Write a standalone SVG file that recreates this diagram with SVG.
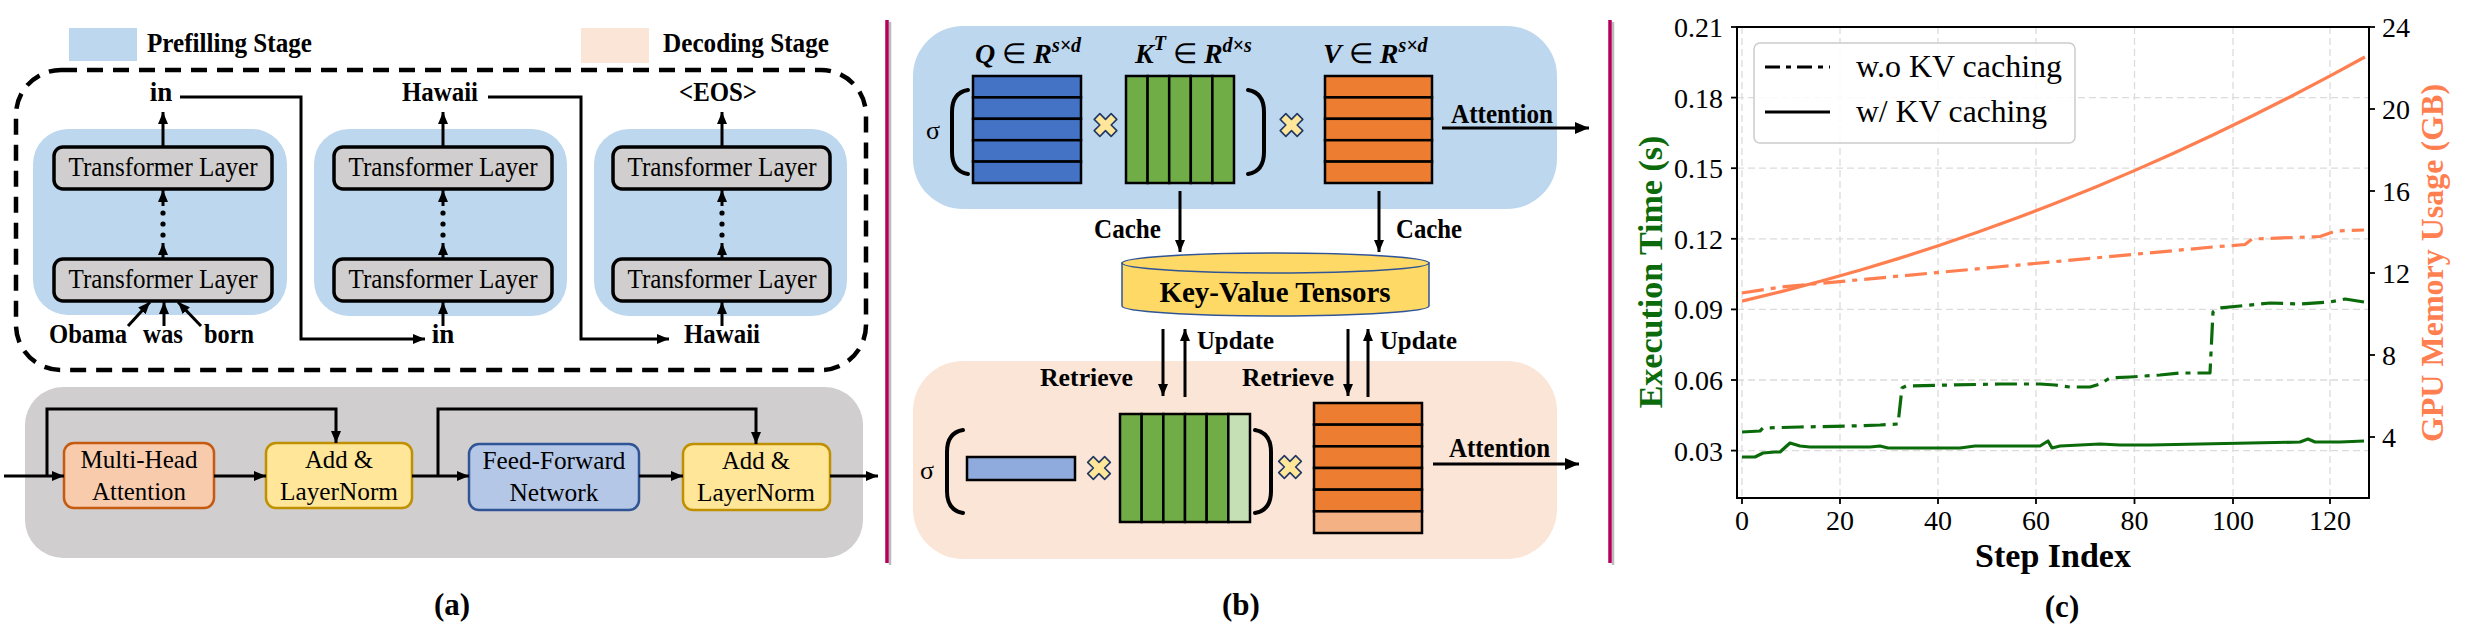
<svg xmlns="http://www.w3.org/2000/svg" width="2465" height="633" viewBox="0 0 2465 633">
<defs>
<style>
text{font-family:"Liberation Serif","Times New Roman",serif;fill:#000}
.b{font-weight:bold}
.t27{font-size:27px}
.t26{font-size:26px}
.t25{font-size:25px}
.mid{text-anchor:middle}
.ln{stroke:#000;stroke-width:3;fill:none}
.lna{stroke:#000;stroke-width:3;fill:none;marker-end:url(#ah)}
.tl{fill:#D0CECE;stroke:#000;stroke-width:3.5}
.cell{stroke:#000;stroke-width:2.5}
.par{stroke:#000;stroke-width:4;fill:none;stroke-linecap:round}
.grid{stroke:#dcdcdc;stroke-width:1.3;stroke-dasharray:7 4}
.tick{stroke:#000;stroke-width:1.8}
.tk{font-size:28px}
.dd{stroke-dasharray:22 7 5 7}
</style>
<marker id="ah" viewBox="0 0 12 10" refX="12" refY="5" markerWidth="12" markerHeight="10" markerUnits="userSpaceOnUse" orient="auto">
<path d="M0,0 L12,5 L0,10 z" fill="#000"/>
</marker>
<marker id="ahb" viewBox="0 0 14 12" refX="14" refY="6" markerWidth="14" markerHeight="12" markerUnits="userSpaceOnUse" orient="auto">
<path d="M0,0 L14,6 L0,12 z" fill="#000"/>
</marker>
<path id="times" d="M-4,-12 L4,-12 L4,-4 L12,-4 L12,4 L4,4 L4,12 L-4,12 L-4,4 L-12,4 L-12,-4 L-4,-4 Z" transform="rotate(45)" fill="#FFE699" stroke="#203864" stroke-width="1.6" stroke-linejoin="round"/>
</defs>
<rect width="2465" height="633" fill="#fff"/>

<!-- ===== Panel (a) ===== -->
<g id="legend-a">
<rect x="69" y="28" width="68" height="33" fill="#BDD7EE"/>
<text x="147" y="52" class="b t27" textLength="165" lengthAdjust="spacingAndGlyphs">Prefilling Stage</text>
<rect x="581" y="28" width="68" height="35" fill="#FBE5D6"/>
<text x="663" y="52" class="b t27" textLength="166" lengthAdjust="spacingAndGlyphs">Decoding Stage</text>
</g>

<g id="stage-frame">
<rect x="16" y="70" width="850" height="300" rx="45" fill="none" stroke="#000" stroke-width="4.5" stroke-dasharray="16 10"/>
</g>

<g id="step1">
<rect x="33" y="129" width="254" height="186" rx="35" fill="#BDD7EE"/>
<rect class="tl" x="54" y="147" width="218" height="42" rx="9"/>
<text x="163" y="176" class="t27 mid" textLength="189" lengthAdjust="spacingAndGlyphs">Transformer Layer</text>
<rect class="tl" x="54" y="259" width="218" height="42" rx="9"/>
<text x="163" y="288" class="t27 mid" textLength="189" lengthAdjust="spacingAndGlyphs">Transformer Layer</text>
</g>
<g id="step2">
<rect x="314" y="129" width="253" height="187" rx="35" fill="#BDD7EE"/>
<rect class="tl" x="334" y="147" width="218" height="42" rx="9"/>
<text x="443" y="176" class="t27 mid" textLength="189" lengthAdjust="spacingAndGlyphs">Transformer Layer</text>
<rect class="tl" x="334" y="259" width="218" height="42" rx="9"/>
<text x="443" y="288" class="t27 mid" textLength="189" lengthAdjust="spacingAndGlyphs">Transformer Layer</text>
</g>
<g id="step3">
<rect x="594" y="129" width="253" height="187" rx="35" fill="#BDD7EE"/>
<rect class="tl" x="613" y="147" width="217" height="42" rx="9"/>
<text x="722" y="176" class="t27 mid" textLength="189" lengthAdjust="spacingAndGlyphs">Transformer Layer</text>
<rect class="tl" x="613" y="259" width="217" height="42" rx="9"/>
<text x="722" y="288" class="t27 mid" textLength="189" lengthAdjust="spacingAndGlyphs">Transformer Layer</text>
</g>

<g id="tokens">
<text x="161" y="101" class="b t27 mid">in</text>
<text x="440" y="101" class="b t27 mid" textLength="76" lengthAdjust="spacingAndGlyphs">Hawaii</text>
<text x="718" y="101" class="b t27 mid" textLength="78" lengthAdjust="spacingAndGlyphs">&lt;EOS&gt;</text>
<text x="88" y="343" class="b t27 mid" textLength="78" lengthAdjust="spacingAndGlyphs">Obama</text>
<text x="163" y="343" class="b t27 mid" textLength="40" lengthAdjust="spacingAndGlyphs">was</text>
<text x="229" y="343" class="b t27 mid" textLength="50" lengthAdjust="spacingAndGlyphs">born</text>
<text x="443" y="343" class="b t27 mid">in</text>
<text x="722" y="343" class="b t27 mid" textLength="76" lengthAdjust="spacingAndGlyphs">Hawaii</text>
</g>

<g id="dots" fill="#000">
<circle cx="163" cy="213" r="2.6"/><circle cx="163" cy="224" r="2.6"/><circle cx="163" cy="235" r="2.6"/>
<circle cx="443" cy="213" r="2.6"/><circle cx="443" cy="224" r="2.6"/><circle cx="443" cy="235" r="2.6"/>
<circle cx="722" cy="213" r="2.6"/><circle cx="722" cy="224" r="2.6"/><circle cx="722" cy="235" r="2.6"/>
</g>

<g id="block">
<rect x="25" y="387" width="838" height="171" rx="38" fill="#D0CECE"/>
</g>
<g id="mha">
<rect x="64" y="443" width="150" height="65" rx="10" fill="#F8CBAD" stroke="#C55A11" stroke-width="2.5"/>
<text x="139" y="468" class="t25 mid" textLength="117" lengthAdjust="spacingAndGlyphs">Multi-Head</text>
<text x="139" y="500" class="t25 mid" textLength="94" lengthAdjust="spacingAndGlyphs">Attention</text>
</g>
<g id="addnorm1">
<rect x="266" y="443" width="146" height="65" rx="10" fill="#FFE699" stroke="#BF9000" stroke-width="2.5"/>
<text x="339" y="468" class="t25 mid" textLength="68" lengthAdjust="spacingAndGlyphs">Add &amp;</text>
<text x="339" y="500" class="t25 mid" textLength="118" lengthAdjust="spacingAndGlyphs">LayerNorm</text>
</g>
<g id="ffn">
<rect x="469" y="444" width="170" height="66" rx="10" fill="#B4C7E7" stroke="#2F5597" stroke-width="2.5"/>
<text x="554" y="469" class="t25 mid" textLength="143" lengthAdjust="spacingAndGlyphs">Feed-Forward</text>
<text x="554" y="501" class="t25 mid" textLength="89" lengthAdjust="spacingAndGlyphs">Network</text>
</g>
<g id="addnorm2">
<rect x="683" y="444" width="147" height="66" rx="10" fill="#FFE699" stroke="#BF9000" stroke-width="2.5"/>
<text x="756" y="469" class="t25 mid" textLength="68" lengthAdjust="spacingAndGlyphs">Add &amp;</text>
<text x="756" y="501" class="t25 mid" textLength="118" lengthAdjust="spacingAndGlyphs">LayerNorm</text>
</g>

<text x="452" y="615" class="b mid" font-size="31">(a)</text>

<!-- separators -->
<g id="separators">
<line x1="890" y1="22" x2="890" y2="565" stroke="#bbb" stroke-width="2.5"/>
<line x1="887" y1="20" x2="887" y2="563" stroke="#B5005B" stroke-width="3.5"/>
<line x1="1613" y1="22" x2="1613" y2="565" stroke="#bbb" stroke-width="2.5"/>
<line x1="1610" y1="20" x2="1610" y2="563" stroke="#B5005B" stroke-width="3.5"/>
</g>

<!-- ===== Panel (b) ===== -->
<g id="prefill-attn">
<rect x="913" y="26" width="644" height="183" rx="50" fill="#BDD7EE"/>
<text x="933" y="139" font-size="26" class="mid">σ</text>
<path class="par" d="M968,90 C956,92 952,100 952,112 L952,152 C952,164 956,172 968,174"/>
<path class="par" d="M1248,90 C1260,92 1264,100 1264,112 L1264,152 C1264,164 1260,172 1248,174"/>
<g fill="#4472C4">
<rect class="cell" x="973" y="76" width="108" height="21.4"/>
<rect class="cell" x="973" y="97.4" width="108" height="21.4"/>
<rect class="cell" x="973" y="118.8" width="108" height="21.4"/>
<rect class="cell" x="973" y="140.2" width="108" height="21.4"/>
<rect class="cell" x="973" y="161.6" width="108" height="21.4"/>
</g>
<g fill="#70AD47">
<rect class="cell" x="1126" y="76" width="21.6" height="107"/>
<rect class="cell" x="1147.6" y="76" width="21.6" height="107"/>
<rect class="cell" x="1169.2" y="76" width="21.6" height="107"/>
<rect class="cell" x="1190.8" y="76" width="21.6" height="107"/>
<rect class="cell" x="1212.4" y="76" width="21.6" height="107"/>
</g>
<g fill="#ED7D31">
<rect class="cell" x="1325" y="76" width="107" height="21.4"/>
<rect class="cell" x="1325" y="97.4" width="107" height="21.4"/>
<rect class="cell" x="1325" y="118.8" width="107" height="21.4"/>
<rect class="cell" x="1325" y="140.2" width="107" height="21.4"/>
<rect class="cell" x="1325" y="161.6" width="107" height="21.4"/>
</g>
<use href="#times" x="1105.5" y="125"/>
<use href="#times" x="1291.5" y="125"/>
<text x="975" y="63" class="b" font-size="28" font-style="italic">Q<tspan font-style="normal" font-weight="normal"> ∈ </tspan>R<tspan font-size="20" dy="-11">s×d</tspan></text>
<text x="1135" y="63" class="b" font-size="28" font-style="italic">K<tspan font-size="20" dy="-13">T</tspan><tspan dy="13" font-style="normal" font-weight="normal"> ∈ </tspan>R<tspan font-size="20" dy="-11">d×s</tspan></text>
<text x="1323" y="63" class="b" font-size="28" font-style="italic">V<tspan font-style="normal" font-weight="normal"> ∈ </tspan>R<tspan font-size="20" dy="-11">s×d</tspan></text>
<text x="1451" y="123" class="b t27" textLength="102" lengthAdjust="spacingAndGlyphs">Attention</text>
</g>

<g id="kv-cache">
<path d="M1122,263 V306 A153.5,10 0 0 0 1429,306 V263 Z" fill="#FFD966" stroke="#2F5597" stroke-width="1.5"/>
<ellipse cx="1275.5" cy="263" rx="153.5" ry="10" fill="#FFD966" stroke="#2F5597" stroke-width="1.5"/>
<text x="1275" y="302" class="b mid" font-size="29" textLength="231" lengthAdjust="spacingAndGlyphs">Key-Value Tensors</text>
</g>

<g id="decode-attn">
<rect x="913" y="361" width="644" height="198" rx="50" fill="#FBE5D6"/>
<text x="927" y="479" font-size="26" class="mid">σ</text>
<path class="par" d="M963,430 C951,432 947,440 947,452 L947,491 C947,503 951,511 963,513"/>
<path class="par" d="M1255,430 C1267,432 1271,440 1271,452 L1271,491 C1271,503 1267,511 1255,513"/>
<rect class="cell" x="967" y="457" width="108" height="23" fill="#8FAADC"/>
<g fill="#70AD47">
<rect class="cell" x="1120" y="414" width="21.67" height="108"/>
<rect class="cell" x="1141.67" y="414" width="21.67" height="108"/>
<rect class="cell" x="1163.33" y="414" width="21.67" height="108"/>
<rect class="cell" x="1185" y="414" width="21.67" height="108"/>
<rect class="cell" x="1206.67" y="414" width="21.67" height="108"/>
<rect class="cell" x="1228.33" y="414" width="21.67" height="108" fill="#C5E0B4"/>
</g>
<g fill="#ED7D31">
<rect class="cell" x="1314" y="403" width="108" height="21.67"/>
<rect class="cell" x="1314" y="424.67" width="108" height="21.67"/>
<rect class="cell" x="1314" y="446.33" width="108" height="21.67"/>
<rect class="cell" x="1314" y="468" width="108" height="21.67"/>
<rect class="cell" x="1314" y="489.67" width="108" height="21.67"/>
<rect class="cell" x="1314" y="511.33" width="108" height="21.67" fill="#F4B183"/>
</g>
<use href="#times" x="1099" y="468"/>
<use href="#times" x="1290" y="467"/>
<text x="1449" y="457" class="b t27" textLength="101" lengthAdjust="spacingAndGlyphs">Attention</text>
</g>

<g id="kv-labels">
<text x="1094" y="238" class="b t27" textLength="67" lengthAdjust="spacingAndGlyphs">Cache</text>
<text x="1396" y="238" class="b t27" textLength="66" lengthAdjust="spacingAndGlyphs">Cache</text>
<text x="1197" y="349" class="b t26" textLength="77" lengthAdjust="spacingAndGlyphs">Update</text>
<text x="1380" y="349" class="b t26" textLength="77" lengthAdjust="spacingAndGlyphs">Update</text>
<text x="1040" y="386" class="b t26" textLength="93" lengthAdjust="spacingAndGlyphs">Retrieve</text>
<text x="1242" y="386" class="b t26" textLength="92" lengthAdjust="spacingAndGlyphs">Retrieve</text>
</g>

<text x="1241" y="615" class="b mid" font-size="31">(b)</text>

<!-- connectors -->
<g id="connectors">
<line class="lna" x1="163" y1="147" x2="163" y2="112"/>
<line class="lna" x1="443" y1="147" x2="443" y2="112"/>
<line class="lna" x1="722" y1="147" x2="722" y2="112"/>
<line class="lna" x1="163" y1="259" x2="163" y2="243"/>
<line class="lna" x1="163" y1="206" x2="163" y2="190"/>
<line class="lna" x1="443" y1="259" x2="443" y2="243"/>
<line class="lna" x1="443" y1="206" x2="443" y2="190"/>
<line class="lna" x1="722" y1="259" x2="722" y2="243"/>
<line class="lna" x1="722" y1="206" x2="722" y2="190"/>
<line class="lna" x1="128" y1="326" x2="150" y2="302"/>
<line class="lna" x1="164" y1="326" x2="164" y2="302"/>
<line class="lna" x1="201" y1="326" x2="178" y2="302"/>
<line class="lna" x1="443" y1="326" x2="443" y2="302"/>
<line class="lna" x1="722" y1="326" x2="722" y2="302"/>
<path class="lna" d="M180,97 H301 V339 H425"/>
<path class="lna" d="M488,97 H581 V339 H669"/>
<line class="lna" x1="4" y1="476" x2="64" y2="476"/>
<line class="lna" x1="214" y1="476" x2="266" y2="476"/>
<line class="lna" x1="412" y1="476" x2="469" y2="476"/>
<line class="lna" x1="639" y1="476" x2="683" y2="476"/>
<line class="lna" x1="830" y1="476" x2="878" y2="476"/>
<path class="lna" d="M47,476 V409 H336 V443"/>
<path class="lna" d="M438,476 V409 H756 V444"/>
<line class="ln" stroke-width="3.5" x1="1442" y1="128" x2="1589" y2="128" marker-end="url(#ahb)"/>
<line class="ln" stroke-width="3.5" x1="1433" y1="464" x2="1579" y2="464" marker-end="url(#ahb)"/>
<line class="lna" x1="1180" y1="191" x2="1180" y2="252"/>
<line class="lna" x1="1379" y1="191" x2="1379" y2="252"/>
<line class="lna" x1="1163" y1="329" x2="1163" y2="396"/>
<line class="lna" x1="1185" y1="397" x2="1185" y2="329"/>
<line class="lna" x1="1348" y1="329" x2="1348" y2="396"/>
<line class="lna" x1="1368" y1="397" x2="1368" y2="329"/>
</g>

<!-- ===== Panel (c) ===== -->
<g id="chart">
<g id="grid">
<line class="grid" x1="1742" y1="27" x2="1742" y2="498"/>
<line class="grid" x1="1840" y1="27" x2="1840" y2="498"/>
<line class="grid" x1="1938" y1="27" x2="1938" y2="498"/>
<line class="grid" x1="2036" y1="27" x2="2036" y2="498"/>
<line class="grid" x1="2134.5" y1="27" x2="2134.5" y2="498"/>
<line class="grid" x1="2233" y1="27" x2="2233" y2="498"/>
<line class="grid" x1="2330" y1="27" x2="2330" y2="498"/>
<line class="grid" x1="1737" y1="97.6" x2="2369" y2="97.6"/>
<line class="grid" x1="1737" y1="168.2" x2="2369" y2="168.2"/>
<line class="grid" x1="1737" y1="238.8" x2="2369" y2="238.8"/>
<line class="grid" x1="1737" y1="309.4" x2="2369" y2="309.4"/>
<line class="grid" x1="1737" y1="380" x2="2369" y2="380"/>
<line class="grid" x1="1737" y1="450.6" x2="2369" y2="450.6"/>
</g>
<g id="curves" fill="none" stroke-width="3.2" stroke-linejoin="round">
<polyline stroke="#FF7F50" points="1742,301.1 1781.2,291.6 1820.5,281.3 1859.7,270.3 1899,258.4 1938.2,245.8 1977.4,232.3 2016.7,218.1 2055.9,203 2095.2,187.2 2134.4,170.6 2173.6,153.2 2212.9,135 2252.1,116 2291.4,96.2 2330.6,75.6 2364.9,57"/>
<polyline class="dd" stroke="#FF7F50" points="1742,293 1781.6,287 1889.4,277 1997,267 2105,257 2212.7,247 2245,244.5 2252,239 2320,236.5 2336,231 2364,230"/>
<polyline class="dd" stroke="#0B6B0B" points="1742,432 1760,431 1763,428 1800,427 1850,426 1880,425 1898,424 1902,388 1906,386 1950,385 2000,384 2040,384 2055,385 2070,387 2090,387 2100,384 2110,378 2130,377 2160,375 2180,373 2210,373 2213,312 2220,308 2240,306 2270,303 2300,304 2330,302 2345,299 2364,302"/>
<polyline stroke="#0B6B0B" points="1742,457 1755,457 1763,453 1775,452 1780,452 1790,443 1800,446 1810,447 1850,447 1870,447 1880,446 1888,448 1940,448 1960,448 1975,446 2040,446 2048,441 2052,448 2060,446 2100,444 2120,445 2150,445 2200,444 2250,443 2300,442 2308,439 2315,442 2340,442 2364,441"/>
</g>
<rect x="1737" y="27" width="632" height="471" fill="none" stroke="#000" stroke-width="2"/>
<g id="ticks">
<line class="tick" x1="1731" y1="27" x2="1737" y2="27"/>
<line class="tick" x1="1731" y1="97.6" x2="1737" y2="97.6"/>
<line class="tick" x1="1731" y1="168.2" x2="1737" y2="168.2"/>
<line class="tick" x1="1731" y1="238.8" x2="1737" y2="238.8"/>
<line class="tick" x1="1731" y1="309.4" x2="1737" y2="309.4"/>
<line class="tick" x1="1731" y1="380" x2="1737" y2="380"/>
<line class="tick" x1="1731" y1="450.6" x2="1737" y2="450.6"/>
<line class="tick" x1="2369" y1="27" x2="2375" y2="27"/>
<line class="tick" x1="2369" y1="109" x2="2375" y2="109"/>
<line class="tick" x1="2369" y1="191" x2="2375" y2="191"/>
<line class="tick" x1="2369" y1="273" x2="2375" y2="273"/>
<line class="tick" x1="2369" y1="355" x2="2375" y2="355"/>
<line class="tick" x1="2369" y1="437" x2="2375" y2="437"/>
<line class="tick" x1="1742" y1="498" x2="1742" y2="504"/>
<line class="tick" x1="1840" y1="498" x2="1840" y2="504"/>
<line class="tick" x1="1938" y1="498" x2="1938" y2="504"/>
<line class="tick" x1="2036" y1="498" x2="2036" y2="504"/>
<line class="tick" x1="2134.5" y1="498" x2="2134.5" y2="504"/>
<line class="tick" x1="2233" y1="498" x2="2233" y2="504"/>
<line class="tick" x1="2330" y1="498" x2="2330" y2="504"/>
</g>
<g id="ticklabels">
<text x="1723" y="37" text-anchor="end" class="tk">0.21</text>
<text x="1723" y="107.6" text-anchor="end" class="tk">0.18</text>
<text x="1723" y="178.2" text-anchor="end" class="tk">0.15</text>
<text x="1723" y="248.8" text-anchor="end" class="tk">0.12</text>
<text x="1723" y="319.4" text-anchor="end" class="tk">0.09</text>
<text x="1723" y="390" text-anchor="end" class="tk">0.06</text>
<text x="1723" y="460.6" text-anchor="end" class="tk">0.03</text>
<text x="2382" y="37" class="tk">24</text>
<text x="2382" y="119" class="tk">20</text>
<text x="2382" y="201" class="tk">16</text>
<text x="2382" y="283" class="tk">12</text>
<text x="2382" y="365" class="tk">8</text>
<text x="2382" y="447" class="tk">4</text>
<text x="1742" y="530" class="tk mid">0</text>
<text x="1840" y="530" class="tk mid">20</text>
<text x="1938" y="530" class="tk mid">40</text>
<text x="2036" y="530" class="tk mid">60</text>
<text x="2134.5" y="530" class="tk mid">80</text>
<text x="2233" y="530" class="tk mid">100</text>
<text x="2330" y="530" class="tk mid">120</text>
</g>
<text class="b mid" font-size="34" style="fill:#0B6B0B" transform="translate(1662,272) rotate(-90)">Execution Time (s)</text>
<text class="b mid" font-size="32" style="fill:#FF7F50" transform="translate(2443,263) rotate(-90)">GPU Memory Usage (GB)</text>
<text x="2053" y="567" class="b mid" font-size="34">Step Index</text>
<g id="chart-legend">
<rect x="1754" y="43" width="321" height="100" rx="6" fill="#fff" fill-opacity="0.85" stroke="#ccc" stroke-width="1.5"/>
<line x1="1765" y1="67" x2="1830" y2="67" stroke="#000" stroke-width="3.2" stroke-dasharray="15 6 5 6"/>
<line x1="1765" y1="112" x2="1830" y2="112" stroke="#000" stroke-width="3.2"/>
<text x="1856" y="77" font-size="31" textLength="206" lengthAdjust="spacingAndGlyphs">w.o KV caching</text>
<text x="1856" y="122" font-size="31" textLength="191" lengthAdjust="spacingAndGlyphs">w/ KV caching</text>
</g>
</g>
<text x="2062" y="617" class="b mid" font-size="31">(c)</text>
</svg>
